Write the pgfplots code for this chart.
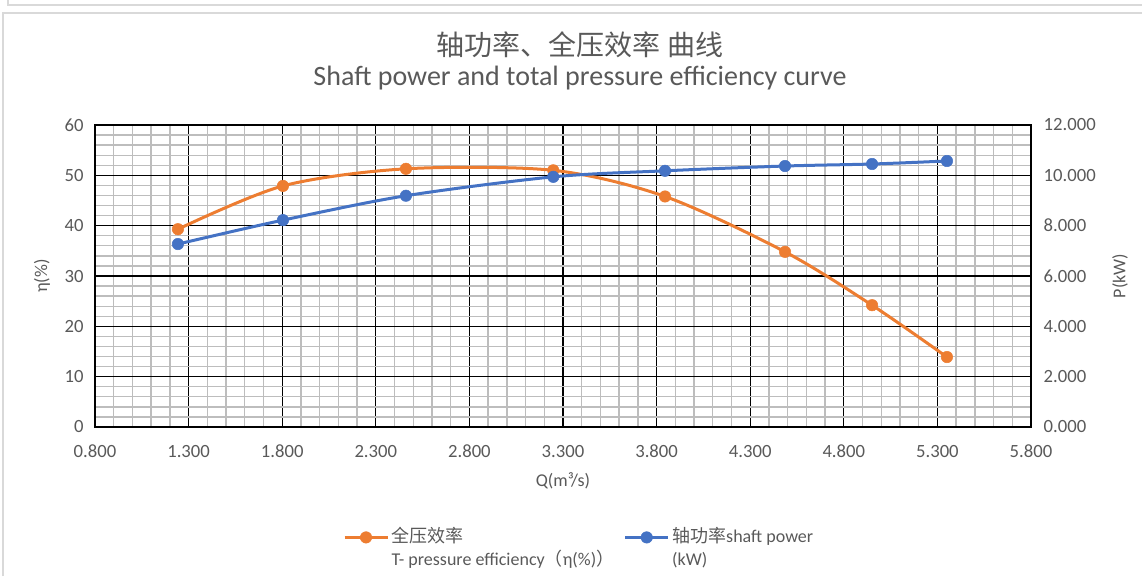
\documentclass[border=0pt]{standalone}
\usepackage{pgfplots}
\pgfplotsset{compat=1.18}
\usepackage{fontspec}
\setmainfont{Carlito}
\newfontfamily\cjk{Noto Sans CJK SC}

\definecolor{effc}{HTML}{ED7D31}
\definecolor{powc}{HTML}{4472C4}
\definecolor{txt}{HTML}{595959}
\definecolor{mgrid}{HTML}{BDBDBD}
\definecolor{framec}{HTML}{D9D9D9}

% efficiency (left axis, %)
\pgfplotstableread{
q eta
1.243 39.3
1.804 47.9
2.461 51.3
3.248 51.0
3.845 45.8
4.486 34.8
4.951 24.2
5.351 13.9
}\efftable
% shaft power (right axis, kW)
\pgfplotstableread{
q p
1.243 7.27
1.804 8.22
2.461 9.19
3.248 9.94
3.845 10.18
4.486 10.37
4.951 10.45
5.351 10.57
}\powtable

\pgfplotsset{
  base/.style={
    scale only axis, width=702pt, height=226.5pt,
    at={(71.25pt,111.75pt)}, anchor=south west,
    xmin=0.8, xmax=5.8,
    xtick={0.8,1.3,1.8,2.3,2.8,3.3,3.8,4.3,4.8,5.3,5.8},
    major tick length=0pt, minor tick length=0pt,
    /pgf/number format/assume math mode=true,
    tick label style={font=\fontsize{14}{16}\selectfont, text=txt},
    label style={font=\fontsize{13.5}{16}\selectfont, text=txt},
  },
  eff/.style={effc, line width=2.25pt, smooth, mark=*, mark size=4.3pt,
    mark options={solid, fill=effc, draw=effc, line width=0.4pt}},
  pow/.style={powc, line width=2.25pt, smooth, mark=*, mark size=4.3pt,
    mark options={solid, fill=powc, draw=powc, line width=0.4pt}},
}

\begin{document}
\begin{tikzpicture}
\path[use as bounding box] (0pt,0pt) rectangle (856.5pt,432pt);
% chart frame
\draw[framec, line width=1.2pt] (2.25pt,0pt) -- (2.25pt,422.25pt) -- (856.5pt,422.25pt);
\draw[framec, line width=1.2pt] (6pt,432pt) -- (6pt,428.25pt) -- (856.5pt,428.25pt);

% titles
\node[text=txt, font=\cjk\fontsize{21}{25}\selectfont] at (435pt,398.25pt) {轴功率、全压效率 曲线};
\node[text=txt, font=\fontsize{21}{25}\selectfont] at (435pt,373.5pt) {Shaft power and total pressure efficiency curve};

\begin{axis}[base,
  ymin=0, ymax=60, ytick={0,10,20,30,40,50,60},
  minor x tick num=4, minor y tick num=4,
  grid=both,
  major grid style={black, line width=0.9pt},
  minor grid style={mgrid, line width=1pt},
  axis line style={black, line width=1pt},
  x tick label style={yshift=-10pt, /pgf/number format/.cd, fixed, fixed zerofill, precision=3},
  y tick label style={xshift=-5pt},
  xlabel={Q(m³/s)},
  ylabel={η(\%)},
  x label style={at={(axis description cs:0.5,-0.179)}, anchor=center},
  y label style={at={(axis description cs:-0.0566,0.5)}, anchor=center},
  legend columns=2,
  legend style={at={(axis description cs:0.2606,-0.288)}, anchor=north west,
    draw=none, fill=none, font=\fontsize{13.5}{17}\selectfont, text=txt,
    cells={align=left, anchor=north west},
    /tikz/every even column/.append style={column sep=5.25pt}},
  legend image code/.code={\path (0pt,4.5pt);
    \draw[mark repeat=2, mark phase=2, #1]
    plot coordinates {(0pt,-9.75pt) (16pt,-9.75pt) (32pt,-9.75pt)};},
]
\addplot[eff] table[x=q, y=eta] {\efftable};
\addlegendentry{{\cjk 全压效率}\\T- pressure efficiency{\cjk （}η(\%){\cjk ）}}
\addlegendimage{pow}
\addlegendentry{{\cjk 轴功率}shaft power\\(kW)}
\end{axis}

\begin{axis}[base,
  axis y line*=right, axis x line=none,
  ymin=0, ymax=12, ytick={0,2,4,6,8,10,12},
  y tick label style={xshift=6pt, /pgf/number format/.cd, fixed, fixed zerofill, precision=3},
  axis line style={black, line width=1pt},
  ylabel={P(kW)},
  y label style={at={(axis description cs:1.095,0.5)}, anchor=center},
]
\addplot[pow] table[x=q, y=p] {\powtable};
\end{axis}
\end{tikzpicture}
\end{document}
